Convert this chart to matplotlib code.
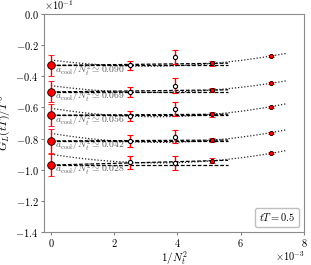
import numpy as np
import matplotlib
matplotlib.use("Agg")
import matplotlib.pyplot as plt
from matplotlib.lines import Line2D

plt.rcParams['font.family'] = 'cmr10'
plt.rcParams['mathtext.fontset'] = 'cm'
plt.rcParams['axes.formatter.use_mathtext'] = True
plt.rcParams['axes.unicode_minus'] = True

# lattice sizes and cooling labels
Nt = [20, 16, 14, 12]
a_labels = ['0.090', '0.069', '0.056', '0.042', '0.028']

# values in units of 1e-1
cont = [-0.33, -0.50, -0.65, -0.815, -0.97]
cont_err = [0.065, 0.068, 0.070, 0.077, 0.072]
val_nt20 = [-0.33, -0.50, -0.655, -0.816, -0.953]
err_nt20 = [0.030, 0.030, 0.035, 0.040, 0.042]
val_nt16 = [-0.278, -0.46, -0.61, -0.788, -0.955]
err_nt16 = [0.045, 0.050, 0.045, 0.043, 0.045]
val_nt14 = [-0.317, -0.488, -0.644, -0.81, -0.942]
err_nt14 = [0.015, 0.015, 0.015, 0.015, 0.015]
val_nt12 = [-0.27, -0.445, -0.595, -0.762, -0.895]
err_nt12 = [0.006, 0.006, 0.006, 0.006, 0.006]
# quadratic extrapolation at 1/Nt^2 = 0
quad_zero = [-0.295, -0.46, -0.605, -0.766, -0.90]

scale = 1e-1
x = 1.0 / np.array(Nt, dtype=float) ** 2

fig = plt.figure(figsize=(3.11, 2.65), dpi=100)
ax = fig.add_axes([0.1415, 0.1245, 0.836, 0.8225])

for i in range(len(cont)):
    c = cont[i] * scale
    v14 = val_nt14[i] * scale
    v12 = val_nt12[i] * scale
    q0 = quad_zero[i] * scale

    # quadratic fit (dotted)
    coef = np.polyfit([0.0, x[2], x[3]], [q0, v14, v12], 2)
    xq = np.linspace(0, 7.45e-3, 100)
    ax.plot(xq, np.polyval(coef, xq), ls=(0, (1, 1.5)), color='0.15', lw=0.9, zorder=2)

    # constant and linear fits (dashed)
    xl = np.array([0.0, 5.6e-3])
    ax.plot(xl, [c, c], ls=(0, (3, 1.5)), color='black', lw=0.9, zorder=2)
    slope = (v14 - c) / x[2]
    ax.plot(xl, c + slope * xl, ls=(0, (3, 1.5)), color='black', lw=0.9, zorder=2)

    # continuum point
    ax.errorbar([0.0], [c], yerr=[cont_err[i] * scale], fmt='o', ms=5.5,
                mfc='red', mec='black', mew=0.6, ecolor='red', elinewidth=1,
                capsize=2, capthick=1, zorder=4)

    # open points
    ax.errorbar(x[:2], [val_nt20[i] * scale, val_nt16[i] * scale],
                yerr=[err_nt20[i] * scale, err_nt16[i] * scale], fmt='o', ms=3,
                mfc='white', mec='black', mew=0.8, ecolor='red', elinewidth=1,
                capsize=2, capthick=1, zorder=4)
    # filled points
    ax.errorbar(x[2:], [v14, v12],
                yerr=[err_nt14[i] * scale, err_nt12[i] * scale], fmt='o', ms=3,
                mfc='red', mec='black', mew=0.6, ecolor='red', elinewidth=1,
                capsize=2, capthick=1, zorder=4)

    ax.text(0.13e-3, c - 0.034 * scale, r'$a_{\rm cool}/N_t^2 \simeq %s$' % a_labels[i],
            fontsize=7, color='0.35', va='center', ha='left', zorder=6)

ax.set_xlim(-0.22e-3, 8e-3)
ax.set_ylim(-0.14, 0.0)
ax.set_xticks([0, 2e-3, 4e-3, 6e-3, 8e-3])
ax.set_yticks(np.arange(-0.14, 0.001, 0.02))
ax.ticklabel_format(style='sci', axis='both', scilimits=(0, 0))

ax.set_xlabel(r'$1/N_t^2$', fontsize=8, labelpad=0)
ax.set_ylabel(r'$G_L(tT)/T^6$', fontsize=8.5, labelpad=2)
ax.tick_params(labelsize=7.5, color='0.5', length=2.5, pad=1.5)
ax.tick_params(axis='x', pad=1)
ax.yaxis.get_offset_text().set_fontsize(7.5)
# x multiplier placed just under the last tick label
ax.xaxis.get_offset_text().set_visible(False)
ax.text(1.003, -0.08, r'$\times10^{-3}$', transform=ax.transAxes,
        ha='right', va='top', fontsize=7.5)
for sp in ax.spines.values():
    sp.set_color('0.55')

leg = ax.legend(handles=[Line2D([], [], ls='none')], labels=[r'$tT = 0.5$'],
                handlelength=0, handletextpad=0, loc='lower right', fontsize=7.5,
                borderpad=0.35, framealpha=1)
leg.get_frame().set_edgecolor('0.75')

fig.savefig('out.png', dpi=100)
